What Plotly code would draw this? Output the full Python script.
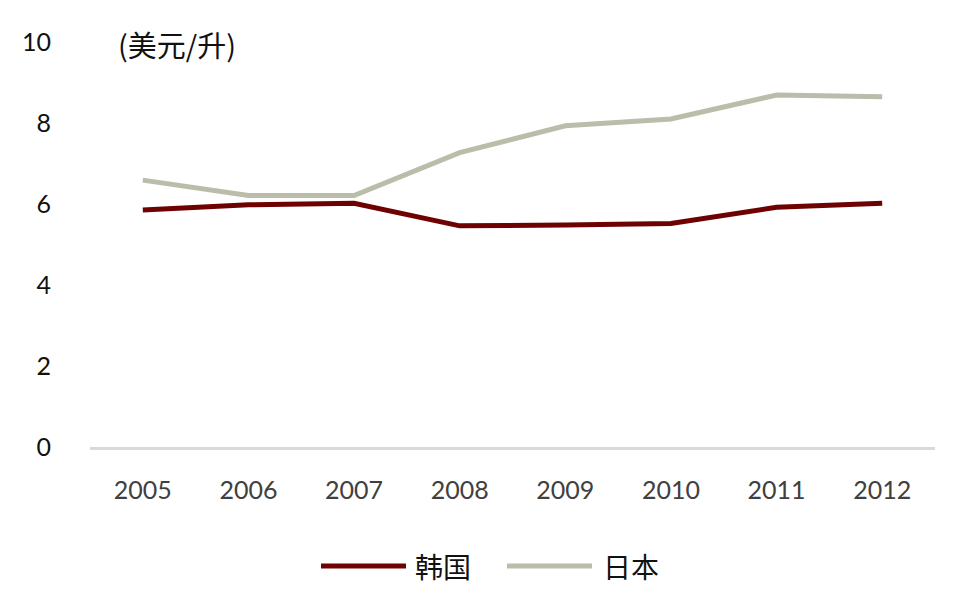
import plotly.graph_objects as go

years = ["2005", "2006", "2007", "2008", "2009", "2010", "2011", "2012"]
korea = [5.85, 5.98, 6.02, 5.46, 5.48, 5.52, 5.92, 6.02]
japan = [6.59, 6.21, 6.21, 7.27, 7.93, 8.10, 8.69, 8.65]
series_names = ["韩国", "日本"]
series_colors = ["#6E0202", "#BCBCAA"]
y_ticks = [0, 2, 4, 6, 8, 10]
unit_label = "(美元/升)"

NUM_FONT = "Lato, Arial, sans-serif"
CJK_FONT = "Noto Sans CJK SC, sans-serif"

# page body has 8px default margin; plot area target 90..935 x 42..447
L, R, T, B = 82, 33, 34, 167
PW, PH = 845, 405

fig = go.Figure()
for name, vals, col in zip(series_names, [korea, japan], series_colors):
    fig.add_trace(go.Scatter(x=years, y=vals, mode="lines", name=name,
                             line=dict(color=col, width=5), showlegend=False))

fig.update_layout(
    width=960, height=606,
    margin=dict(l=L, r=R, t=T, b=B),
    paper_bgcolor="white", plot_bgcolor="white",
    xaxis=dict(type="category", range=[-0.5, 7.5], showgrid=False,
               showline=True, linecolor="#D9D9D9", linewidth=3,
               ticks="", tickfont=dict(family=NUM_FONT, size=25, color="#404040"),
               ticklabelstandoff=19, zeroline=False),
    yaxis=dict(range=[0, 10], tickvals=y_ticks, showgrid=False, showline=False,
               zeroline=False, ticks="",
               tickfont=dict(family=NUM_FONT, size=25, color="#111111"),
               ticklabelstandoff=38),
)

fig.add_annotation(xref="x domain", yref="y domain",
                   x=(116 - 90) / PW, y=1 - (44 - 42) / PH, text=unit_label,
                   showarrow=False, xanchor="left", yanchor="middle",
                   font=dict(family=CJK_FONT, size=29, color="#111111"))

# custom legend (long line samples)
leg_items = [(321, 406, 413), (507, 592, 601)]
ly = -(566 - 447) / PH
for (x0, x1, tx), name, col in zip(leg_items, series_names, series_colors):
    fig.add_shape(type="line", xref="paper", yref="paper",
                  x0=(x0 - 90) / PW, x1=(x1 - 90) / PW, y0=ly, y1=ly,
                  line=dict(color=col, width=5))
    fig.add_annotation(xref="paper", yref="paper", x=(tx - 90) / PW,
                       y=ly, text=name, showarrow=False,
                       xanchor="left", yanchor="middle",
                       font=dict(family=CJK_FONT, size=28, color="#111111"))

fig.write_html("out.html")
